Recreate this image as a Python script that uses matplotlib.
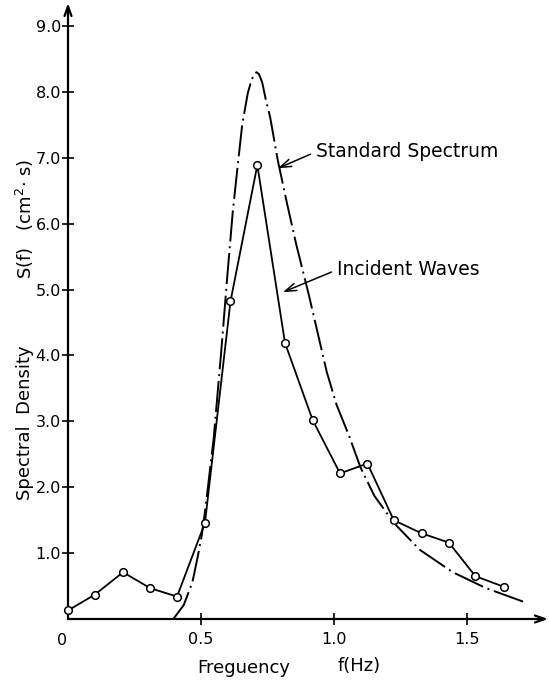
import matplotlib
matplotlib.use("Agg")
import matplotlib.pyplot as plt

inc_f = [0.0, 0.101, 0.207, 0.308, 0.410, 0.515, 0.611, 0.712, 0.816, 0.920,
         1.023, 1.126, 1.225, 1.330, 1.432, 1.532, 1.638]
inc_s = [0.13, 0.37, 0.71, 0.47, 0.34, 1.46, 4.82, 6.89, 4.19, 3.02,
         2.21, 2.36, 1.50, 1.30, 1.16, 0.65, 0.49]

# standard spectrum curve, traced points
std_f = [0.396, 0.435, 0.468, 0.489, 0.503, 0.518, 0.548, 0.576, 0.600, 0.620,
         0.640, 0.655, 0.676, 0.690, 0.700, 0.709, 0.718, 0.730, 0.744, 0.760,
         0.789, 0.824, 0.858, 0.905, 0.950, 0.973, 1.010, 1.056, 1.100, 1.152,
         1.225, 1.323, 1.447, 1.571, 1.714]
std_s = [0.0, 0.21, 0.56, 0.97, 1.27, 1.72, 2.75, 4.05, 5.25, 6.2,
         6.95, 7.5, 7.98, 8.18, 8.27, 8.30, 8.27, 8.15, 7.88, 7.62,
         6.96, 6.30, 5.69, 4.93, 4.15, 3.75, 3.25, 2.79, 2.30, 1.87,
         1.46, 1.05, 0.71, 0.47, 0.26]

xticks = [0.5, 1.0, 1.5]
xtick_labels = ["0.5", "1.0", "1.5"]
yticks = [1, 2, 3, 4, 5, 6, 7, 8, 9]
ytick_labels = ["1.0", "2.0", "3.0", "4.0", "5.0", "6.0", "7.0", "8.0", "9.0"]

plt.rcParams['font.family'] = ['DejaVu Sans']

W, H = 549, 680
fig = plt.figure(figsize=(W / 100, H / 100), dpi=100)
x0, y0, x1, y1 = 68, 619, 548, 3
ax = fig.add_axes([x0 / W, 1 - y0 / H, (x1 - x0) / W, (y0 - y1) / H])
ax.set_xlim(0, 1.805)
ax.set_ylim(0, 9.35)

for s in ax.spines.values():
    s.set_visible(False)

# axes with arrow heads
ax.annotate('', xy=(1, 0), xytext=(0, 0), xycoords='axes fraction',
            arrowprops=dict(arrowstyle='->,head_length=0.7,head_width=0.25',
                            lw=1.6, color='black', shrinkA=0, shrinkB=0))
ax.annotate('', xy=(0, 1), xytext=(0, 0), xycoords='axes fraction',
            arrowprops=dict(arrowstyle='->,head_length=0.7,head_width=0.25',
                            lw=1.6, color='black', shrinkA=0, shrinkB=0))

ax.plot(std_f, std_s, color='black', lw=1.4, linestyle=(0, (16, 2.5, 1, 2.5)))
ax.plot(inc_f, inc_s, color='black', lw=1.3, marker='o', markersize=5.5,
        markerfacecolor='white', markeredgecolor='black', markeredgewidth=1.1,
        clip_on=False, zorder=3)

ax.set_xticks(xticks)
ax.set_xticklabels(xtick_labels)
ax.set_yticks(yticks)
ax.set_yticklabels(ytick_labels)
ax.tick_params(axis='both', direction='inout', length=8, width=1.2,
               labelsize=11.5, colors='black')
ax.tick_params(axis='y', pad=1)
ax.tick_params(axis='x', pad=5)

ax.text(-0.023, -0.32, "0", ha='center', va='center', fontsize=11.5)

ax.annotate("Standard Spectrum", xy=(0.789, 6.84), xytext=(0.932, 7.09),
            ha='left', va='center', fontsize=13.5,
            arrowprops=dict(arrowstyle='->,head_length=0.6,head_width=0.2',
                            lw=1.1, color='black', relpos=(0, 0.5),
                            shrinkA=2, shrinkB=0))
ax.annotate("Incident Waves", xy=(0.808, 4.96), xytext=(1.011, 5.30),
            ha='left', va='center', fontsize=13.5,
            arrowprops=dict(arrowstyle='->,head_length=0.6,head_width=0.2',
                            lw=1.1, color='black', relpos=(0, 0.5),
                            shrinkA=2, shrinkB=0))

fig.text(197 / W, 1 - 668 / H, "Freguency", ha='left', va='center', fontsize=13)
fig.text(338 / W, 1 - 666 / H, "f(Hz)", ha='left', va='center', fontsize=13)
fig.text(25 / W, 1 - 219 / H, "S(f)   (cm$^2$· s)", ha='center', va='center',
         rotation=90, fontsize=13)
fig.text(25 / W, 1 - 423 / H, "Spectral  Density", ha='center', va='center',
         rotation=90, fontsize=13)

fig.savefig("out.png", dpi=100, facecolor='white')
